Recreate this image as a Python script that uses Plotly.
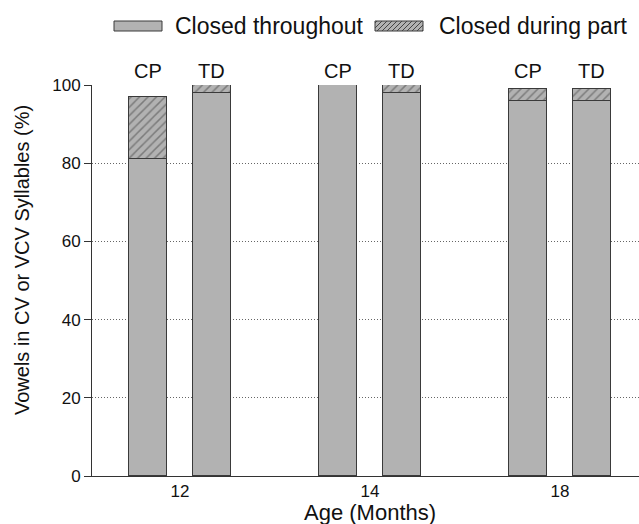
import plotly.graph_objects as go

ages = ["12", "14", "18"]
groups = ["CP", "TD"]
throughout_cp = [81, 100, 96]
throughout_td = [98, 98, 96]
part_cp = [16, 0, 3]
part_td = [2, 2, 3]
legend_names = ["Closed throughout", "Closed during part"]

offset = 0.168
x_cp = [i - offset for i in range(len(ages))]
x_td = [i + offset for i in range(len(ages))]
xs = x_cp + x_td
thr = throughout_cp + throughout_td
prt = part_cp + part_td
lbl = [groups[0]] * len(ages) + [groups[1]] * len(ages)

GRAY = "#b2b2b2"
EDGE = "#3a3a3a"
FONT = "Liberation Sans, Arial, sans-serif"
W, H = 639, 524
L, R, T, B = 92, 0, 85, 48
PW, PH = W - L - R, H - T - B


def px(x):
    return (x - L) / PW


def py(y):
    return (H - B - y) / PH


fig = go.Figure()
fig.add_trace(go.Bar(
    x=xs, y=thr, width=0.2, name=legend_names[0], showlegend=False,
    marker=dict(color=GRAY, line=dict(color=EDGE, width=1)),
))
fig.add_trace(go.Bar(
    x=xs, y=prt, width=0.2, name=legend_names[1], showlegend=False,
    marker=dict(color=GRAY, line=dict(color=EDGE, width=1),
                pattern=dict(shape="/", fgcolor="#444444", bgcolor=GRAY, size=6, solidity=0.25)),
))

for x, l in zip(xs, lbl):
    fig.add_annotation(x=x, y=100, text=l, showarrow=False, yanchor="bottom", yshift=1,
                       font=dict(size=20, color="#111", family=FONT))

# custom legend (wide rectangular swatches like the reference)
sw = [(114, 162), (375, 423)]
tx = [173, 437]
sy0, sy1 = 21, 31
for i, ((a, b), t) in enumerate(zip(sw, tx)):
    fig.add_shape(type="rect", xref="paper", yref="paper",
                  x0=px(a), x1=px(b), y0=py(sy1), y1=py(sy0),
                  fillcolor=GRAY, line=dict(color=EDGE, width=1), layer="above")
    if i == 1:
        segs = []
        h = sy1 - sy0
        c = a - h + 2
        while c < b:
            xa, ya = c, sy1
            xb, yb = c + h, sy0
            if xa < a:
                ya = sy1 - (a - xa)
                xa = a
            if xb > b:
                yb = sy0 + (xb - b)
                xb = b
            if xb > xa:
                segs.append(f"M {px(xa)} {py(ya)} L {px(xb)} {py(yb)}")
            c += 5
        fig.add_shape(type="path", xref="paper", yref="paper", path=" ".join(segs),
                      line=dict(color="#444444", width=1), layer="above")
    fig.add_annotation(xref="paper", yref="paper", x=px(t), y=py(26), text=legend_names[i],
                       showarrow=False, xanchor="left", yanchor="middle",
                       font=dict(size=23, color="#111", family=FONT))

fig.add_annotation(xref="paper", yref="paper", x=px(370), y=py(512), text="Age (Months)",
                   showarrow=False, xanchor="center", yanchor="middle",
                   font=dict(size=22, color="#111", family=FONT))
fig.add_annotation(xref="paper", yref="paper", x=px(22), y=py(260),
                   text="Vowels in CV or VCV Syllables (%)", textangle=-90,
                   showarrow=False, xanchor="center", yanchor="middle",
                   font=dict(size=20, color="#111", family=FONT))

fig.update_layout(
    barmode="stack",
    width=W, height=H,
    margin=dict(l=L, r=R, t=T, b=B, autoexpand=False),
    plot_bgcolor="white", paper_bgcolor="white",
    font=dict(family=FONT, color="#111"),
    showlegend=False,
    bargap=0,
)
fig.update_xaxes(
    range=[-0.463, 2.416], tickvals=list(range(len(ages))), ticktext=ages,
    showline=True, linecolor="#333", linewidth=1, ticks="", showgrid=False, zeroline=False,
    tickfont=dict(size=17), automargin=False,
)
fig.update_yaxes(
    range=[0, 100], tickvals=[0, 20, 40, 60, 80, 100],
    showline=True, linecolor="#333", linewidth=1, ticks="outside", ticklen=7, tickcolor="#333",
    showgrid=True, gridcolor="#666", griddash="1px,2px", gridwidth=1, zeroline=False,
    tickfont=dict(size=17), automargin=False,
)
fig.write_html("out.html", config={"displayModeBar": False},
               post_script="document.body.style.margin='0';")
